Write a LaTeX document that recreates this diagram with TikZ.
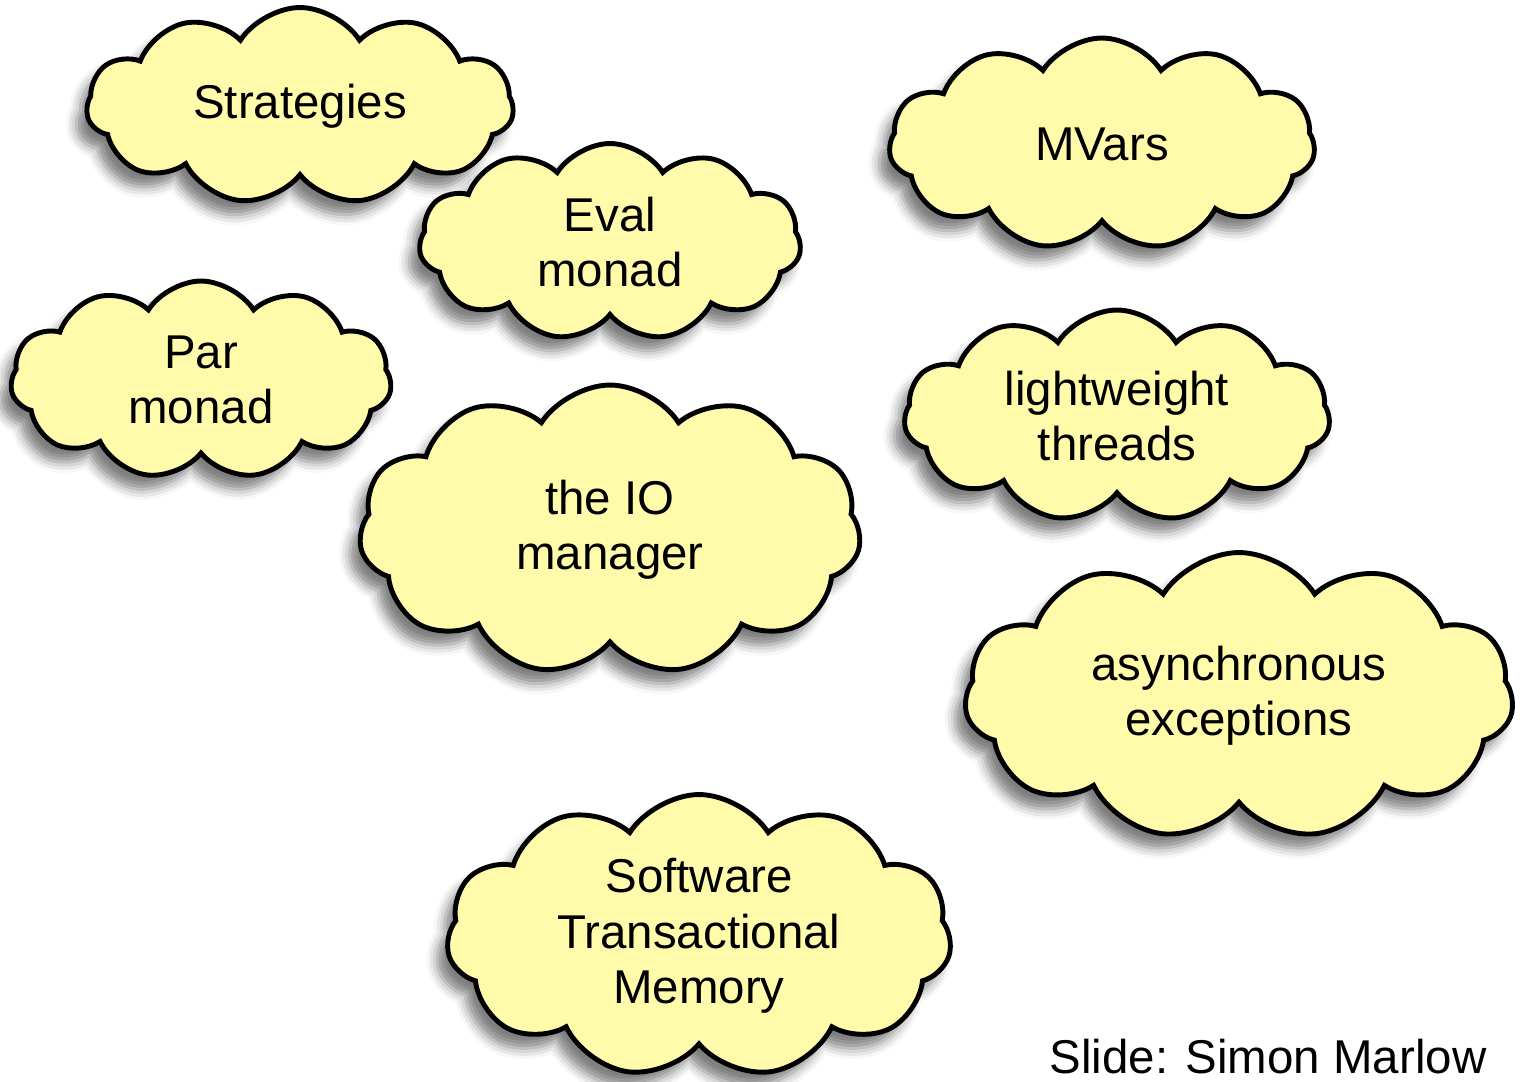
\documentclass[tikz,border=0pt]{standalone}
\usepackage{fontspec}
\setmainfont{Liberation Sans}
\usepackage{xcolor}
\definecolor{cloudyellow}{RGB}{255,251,170}
\definecolor{cloudline}{RGB}{0,0,0}
\usetikzlibrary{shapes.symbols, shadows, shadows.blur}

\tikzset{
  idea/.style={cloud, cloud puffs=11, cloud puff arc=115, cloud ignores aspect,
    draw=cloudline, line width=2.8pt, fill=cloudyellow, align=center,
    font=\fontsize{27}{31.5}\selectfont, inner sep=0pt,
    blur shadow={shadow xshift=-6pt, shadow yshift=-8pt, shadow blur radius=6pt, shadow opacity=50}}
}

\begin{document}
\begin{tikzpicture}[x=0.02cm, y=-0.02cm]
\useasboundingbox (0,0) rectangle (1522,1082);

% --- left column of clouds ---
\node[idea, minimum width=8.54cm, minimum height=3.94cm] (strategies) at (300,106) {Strategies};
\node[idea, minimum width=7.64cm, minimum height=3.94cm] (eval) at (610,242) {Eval\\monad};
\node[idea, minimum width=7.62cm, minimum height=3.96cm] (par) at (201,380) {Par\\monad};
\node[idea, minimum width=10.04cm, minimum height=5.8cm] (iomgr) at (610,530) {the IO\\manager};
\node[idea, minimum width=10.1cm, minimum height=5.66cm] (stm) at (699,936) {Software\\Transactional\\Memory};

% --- right column of clouds ---
\node[idea, minimum width=8.52cm, minimum height=4.24cm] (mvars) at (1102,144) {MVars};
\node[idea, minimum width=8.52cm, minimum height=4.24cm] (threads) at (1117,416) {lightweight\\threads};
\node[idea, minimum width=10.98cm, minimum height=5.74cm] (async) at (1239,696) {asynchronous\\exceptions};

% credit
\node[font=\fontsize{27}{31.5}\selectfont, anchor=base] (credit) at (1268,1073) {Slide: Simon Marlow};

\end{tikzpicture}
\end{document}
